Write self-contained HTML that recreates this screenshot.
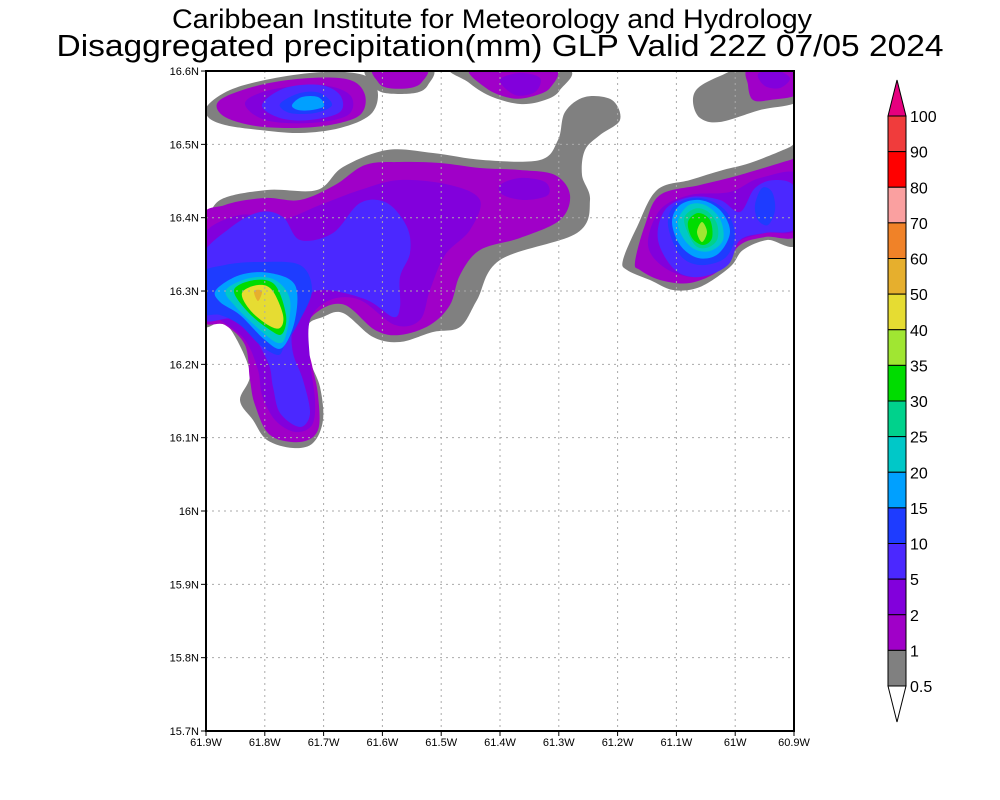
<!DOCTYPE html>
<html><head><meta charset="utf-8"><style>
body{margin:0;background:#fff}
svg{display:block}
text{font-family:"Liberation Sans",sans-serif}
</style></head><body>
<svg id="s" width="1000" height="800" xmlns="http://www.w3.org/2000/svg">
<rect width="1000" height="800" fill="#fff"/>
<g id="shapes"></g>
<g id="grid" stroke="#aaa" stroke-width="1" stroke-dasharray="2,4"></g>
<rect x="206" y="71" width="588" height="660" fill="none" stroke="#000" stroke-width="2"/>
<g id="ticks" font-size="11" fill="#000"></g>
<text x="492" y="28" font-size="27" text-anchor="middle" textLength="640" lengthAdjust="spacingAndGlyphs">Caribbean Institute for Meteorology and Hydrology</text>
<text x="500" y="56" font-size="31" text-anchor="middle" textLength="887" lengthAdjust="spacingAndGlyphs">Disaggregated precipitation(mm) GLP Valid 22Z 07/05 2024</text>
<g id="cbar"></g>
</svg>
<script>
var NS="http://www.w3.org/2000/svg";
function el(t,a,p){var e=document.createElementNS(NS,t);for(var k in a)e.setAttribute(k,a[k]);p.appendChild(e);return e;}
function smooth(pts){var n=pts.length,d="M"+pts[0][0]+","+pts[0][1];
for(var i=0;i<n;i++){var p0=pts[(i-1+n)%n],p1=pts[i],p2=pts[(i+1)%n],p3=pts[(i+2)%n];
var c1=[p1[0]+(p2[0]-p0[0])/6,p1[1]+(p2[1]-p0[1])/6],c2=[p2[0]-(p3[0]-p1[0])/6,p2[1]-(p3[1]-p1[1])/6];
d+="C"+c1[0].toFixed(1)+","+c1[1].toFixed(1)+" "+c2[0].toFixed(1)+","+c2[1].toFixed(1)+" "+p2[0]+","+p2[1];}
return d+"Z";}
var G="#808080",P="#a000c8",V="#8200dc",BV="#4b28ff",B="#1e3cff",LB="#00a0ff",C="#00c8c8",T="#00d28c",GR="#00dc00",YG="#a0e632",Y="#e6dc32",O="#e6af2d";
var S=[
[G,[[206,225],[220,200],[267,190],[317,190],[343,167],[387,150],[433,153],[483,160],[540,160],[558,140],[565,112],[585,97],[612,100],[620,120],[600,135],[585,150],[582,175],[590,200],[577,233],[500,260],[477,300],[460,327],[433,332],[400,342],[373,337],[343,313],[323,317],[307,327],[310,360],[320,387],[323,420],[313,443],[293,448],[267,440],[253,420],[240,400],[250,373],[233,333],[220,323],[200,320],[200,225]]],
[P,[[200,222],[225,205],[265,198],[300,200],[335,185],[365,165],[400,162],[440,163],[480,168],[520,170],[555,175],[570,195],[560,220],[520,238],[480,250],[460,275],[450,305],[430,325],[400,335],[375,330],[345,305],[320,310],[305,330],[312,365],[318,395],[318,430],[300,442],[270,435],[255,405],[250,380],[245,345],[225,325],[200,315]]],
[V,[[200,240],[240,215],[280,220],[320,205],[360,190],[400,180],[450,185],[480,200],[470,230],[445,255],[430,290],[420,320],[395,325],[360,300],[330,300],[310,320],[310,360],[315,400],[312,425],[295,432],[275,420],[262,395],[258,370],[245,340],[220,320],[200,310]]],
[BV,[[200,260],[230,228],[260,212],[283,217],[300,240],[333,233],[360,203],[387,203],[407,227],[410,253],[400,277],[400,307],[393,317],[367,300],[327,290],[307,297],[293,327],[293,353],[303,380],[310,413],[300,427],[280,413],[273,387],[267,360],[240,320],[200,318]]],
[B,[[200,275],[225,265],[260,262],[300,265],[312,290],[300,320],[285,345],[278,355],[260,345],[240,325],[220,315],[200,312]]],
[LB,[[216,290],[240,275],[270,273],[295,285],[295,320],[282,348],[265,340],[240,315],[220,302]]],
[C,[[226,290],[250,278],[275,280],[290,300],[286,335],[278,343],[260,330],[235,306]]],
[GR,[[234,290],[255,280],[275,285],[286,315],[282,334],[270,330],[248,312]]],
[Y,[[242,293],[258,285],[272,290],[283,315],[280,328],[268,325],[250,310]]],
[O,[[254,291],[262,291],[258,301]]],
[V,[[500,185],[520,178],[545,182],[548,195],[525,200],[503,195]]],
[G,[[208,105],[230,90],[265,80],[310,73],[345,72],[370,78],[378,95],[370,115],[340,128],[300,133],[260,130],[225,125],[208,117]]],
[P,[[220,100],[260,85],[310,78],[350,80],[365,95],[360,115],[330,125],[290,128],[250,125],[222,115]]],
[V,[[245,103],[270,90],[320,85],[350,95],[348,115],[310,123],[265,120]]],
[BV,[[262,105],[285,88],[320,85],[340,95],[340,112],[310,120],[280,118]]],
[B,[[280,104],[300,93],[320,93],[332,105],[315,113],[290,113]]],
[LB,[[292,105],[302,97],[318,97],[324,106],[312,110],[298,110]]],
[G,[[368,68],[430,68],[428,85],[415,93],[385,93],[373,85]]],
[P,[[375,68],[425,68],[422,82],[410,88],[388,88],[378,82]]],
[G,[[455,68],[565,68],[560,90],[545,100],[520,104],[490,96],[468,82]]],
[P,[[472,68],[552,68],[550,88],[530,97],[510,98],[486,88]]],
[V,[[500,80],[520,73],[540,78],[535,92],[515,95]]],
[G,[[698,88],[720,76],[745,68],[800,68],[800,100],[760,110],[720,122],[700,118],[693,102]]],
[P,[[750,68],[800,68],[800,93],[770,100],[753,100],[748,85]]],
[V,[[758,74],[775,70],[790,78],[780,88],[765,86]]],
[G,[[623,260],[637,227],[657,190],[690,180],[723,170],[750,163],[790,147],[800,140],[800,240],[767,240],[743,250],[730,267],[700,287],[673,290],[650,280],[627,270]]],
[P,[[635,262],[645,225],[660,195],[700,185],[740,175],[790,160],[800,158],[800,232],[765,237],[740,245],[720,270],[690,283],[660,280],[640,270]]],
[V,[[648,245],[660,210],[690,195],[730,192],[760,178],[800,175],[800,228],[765,233],[738,242],[722,265],[695,277],[665,268]]],
[BV,[[658,240],[665,210],[690,197],[720,200],[740,212],[755,188],[775,180],[795,188],[795,228],[765,233],[740,240],[728,265],[700,277],[675,270]]],
[B,[[668,225],[675,205],[700,198],[725,210],[735,235],[725,258],[700,265],[680,255]]],
[B,[[755,205],[762,188],[772,192],[775,210],[768,225],[758,220]]],
[LB,[[672,222],[680,205],[700,200],[720,210],[730,232],[718,254],[698,258],[680,245]]],
[C,[[678,220],[689,205],[705,205],[720,219],[723,240],[710,251],[694,249],[682,236]]],
[T,[[684,220],[694,209],[707,211],[717,224],[717,240],[706,248],[694,244]]],
[GR,[[688,222],[698,213],[710,220],[712,238],[703,245],[692,238]]],
[YG,[[702,222],[707,232],[702,242],[697,232]]]
];
var g=document.getElementById("shapes");
var cp=el("clipPath",{id:"cp"},document.getElementById("s"));
el("rect",{x:206,y:71,width:588,height:660},cp);
g.setAttribute("clip-path","url(#cp)");
S.forEach(function(s){el("path",{d:smooth(s[1]),fill:s[0]},g);});
var gr=document.getElementById("grid"),tk=document.getElementById("ticks");
var lons=["61.9W","61.8W","61.7W","61.6W","61.5W","61.4W","61.3W","61.2W","61.1W","61W","60.9W"];
for(var i=0;i<=10;i++){var x=206+i*58.8;
if(i>0&&i<10)el("line",{x1:x,y1:71,x2:x,y2:731},gr);
el("line",{x1:x,y1:731,x2:x,y2:736,stroke:"#000"},tk);
var t=el("text",{x:x,y:746,"text-anchor":"middle"},tk);t.textContent=lons[i];}
var lats=["15.7N","15.8N","15.9N","16N","16.1N","16.2N","16.3N","16.4N","16.5N","16.6N"];
for(var j=0;j<=9;j++){var y=731-j*73.33;
if(j>0&&j<9)el("line",{x1:206,y1:y,x2:794,y2:y},gr);
el("line",{x1:201,y1:y,x2:206,y2:y,stroke:"#000"},tk);
var t=el("text",{x:199,y:y+4,"text-anchor":"end"},tk);t.textContent=lats[j];}
var cb=document.getElementById("cbar");
var cols=["#f03c3c","#ff0000","#faa0a0","#f08228","#e6af2d","#e6dc32","#a0e632","#00dc00","#00d28c","#00c8c8","#00a0ff","#1e3cff","#4b28ff","#8200dc","#a000c8","#808080"];
var labs=["100","90","80","70","60","50","40","35","30","25","20","15","10","5","2","1","0.5"];
var cbTop=116,h=35.625;
el("polygon",{points:"888,"+cbTop+" 906,"+cbTop+" 897,80",fill:"#e6007f",stroke:"#000"},cb);
for(var k=0;k<16;k++)el("rect",{x:888,y:cbTop+k*h,width:18,height:h,fill:cols[k],stroke:"#000","stroke-width":1},cb);
var bot=cbTop+16*h;
el("polygon",{points:"888,"+bot+" 906,"+bot+" 897,"+(bot+36),fill:"#fff",stroke:"#000"},cb);
for(var k=0;k<17;k++){var t=el("text",{x:910,y:cbTop+k*h+6,"font-size":"16"},cb);t.textContent=labs[k];}
</script>
</body></html>
